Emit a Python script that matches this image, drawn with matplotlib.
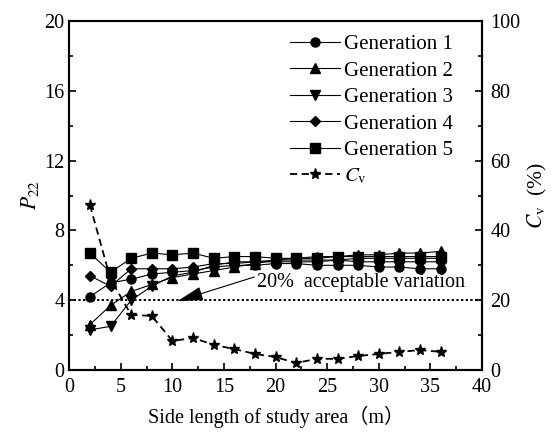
import matplotlib.pyplot as plt
from matplotlib.ticker import MultipleLocator

plt.rcParams['font.family'] = ['Liberation Serif', 'Noto Sans CJK SC']
plt.rcParams['mathtext.fontset'] = 'stix'

x = [2, 4, 6, 8, 10, 12, 14, 16, 18, 20, 22, 24, 26, 28, 30, 32, 34, 36]
gen1 = [4.2, 5.0, 5.2, 5.5, 5.6, 5.7, 5.9, 6.0, 6.0, 6.1, 6.1, 6.0, 6.0, 6.0, 5.9, 5.9, 5.8, 5.8]
gen2 = [2.6, 3.7, 4.5, 4.9, 5.3, 5.5, 5.7, 5.9, 6.1, 6.3, 6.4, 6.5, 6.5, 6.6, 6.6, 6.7, 6.7, 6.8]
gen3 = [2.3, 2.5, 4.0, 4.8, 5.4, 5.6, 6.0, 6.2, 6.2, 6.3, 6.3, 6.3, 6.3, 6.4, 6.4, 6.4, 6.4, 6.4]
gen4 = [5.4, 4.8, 5.8, 5.8, 5.8, 5.9, 6.1, 6.1, 6.2, 6.2, 6.2, 6.2, 6.3, 6.2, 6.2, 6.2, 6.2, 6.2]
gen5 = [6.7, 5.6, 6.4, 6.7, 6.6, 6.7, 6.4, 6.5, 6.5, 6.4, 6.4, 6.4, 6.5, 6.5, 6.5, 6.5, 6.5, 6.5]
cv = [47.3, 26.0, 15.8, 15.5, 8.3, 9.2, 7.2, 6.0, 4.6, 3.7, 2.0, 3.2, 3.2, 4.0, 4.6, 5.2, 5.7, 5.2]

gens = [gen1, gen2, gen3, gen4, gen5]
markers = ['o', '^', 'v', 'D', 's']
labels = ['Generation 1', 'Generation 2', 'Generation 3', 'Generation 4', 'Generation 5']

fig = plt.figure(figsize=(5.53, 4.36), dpi=100)
ax = fig.add_axes([0.1253, 0.1514, 0.7463, 0.8004])
ax2 = ax.twinx()

handles = []
for g, m, lab in zip(gens, markers, labels):
    ms = 5.5 if m == 'D' else 6.5
    h, = ax.plot(x, g, color='black', lw=0.8, marker=m, ms=ms, label=lab)
    handles.append(h)

h, = ax2.plot(x, cv, color='black', lw=1.3, ls=(0, (4, 2.5)), marker='*', ms=8,
              label='$C_\\mathrm{v}$')
handles.append(h)

ax.axhline(4, color='black', lw=1.4, ls=(0, (1.2, 1.2)))
ax.annotate('20%  acceptable variation', xy=(10.5, 3.95), xytext=(18.2, 5.0),
            fontsize=14.5, va='center', ha='left',
            arrowprops=dict(arrowstyle='-|>,head_length=1.1,head_width=0.3',
                            color='black', lw=0.8, shrinkA=0, shrinkB=0,
                            relpos=(0, 0.85)))

ax.set_xlim(0, 40)
ax.set_ylim(0, 20)
ax2.set_ylim(0, 100)
ax.xaxis.set_major_locator(MultipleLocator(5))
ax.xaxis.set_minor_locator(MultipleLocator(2.5))
ax.yaxis.set_major_locator(MultipleLocator(4))
ax.yaxis.set_minor_locator(MultipleLocator(2))
ax2.yaxis.set_major_locator(MultipleLocator(20))
ax2.yaxis.set_minor_locator(MultipleLocator(10))

for a in (ax, ax2):
    a.tick_params(which='both', direction='in', labelsize=14.5, width=1.2)
    a.tick_params(which='major', length=5)
    a.tick_params(which='minor', length=3)
    for s in a.spines.values():
        s.set_linewidth(1.5)
ax.tick_params(top=False, right=False)
ax.tick_params(axis='x', pad=6)
ax2.tick_params(left=False, pad=6)

ax.set_xlabel('Side length of study area（m）', fontsize=14.5, labelpad=6)
ax.set_ylabel('$P_{22}$', fontsize=15.5, labelpad=2)
ax2.set_ylabel('$C_\\mathrm{v}$  (%)', fontsize=15.5)

ax.legend(handles=handles, loc='upper right', bbox_to_anchor=(0.95, 0.985),
          frameon=False, fontsize=15, handlelength=2.4, handletextpad=0.2,
          labelspacing=0.33, borderaxespad=0)

fig.savefig('out.png', dpi=100)
